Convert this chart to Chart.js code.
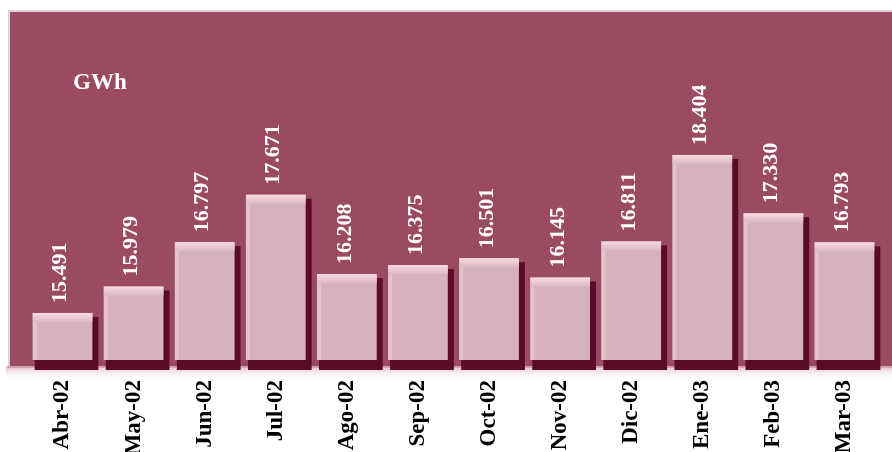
<!DOCTYPE html>
<html>
<head>
<meta charset="utf-8">
<script src="https://cdn.jsdelivr.net/npm/chart.js@4"></script>
<style>
  html, body { margin: 0; padding: 0; background: #fff; }
  #wrap { width: 892px; height: 452px; position: relative; }
</style>
</head>
<body>
<div id="wrap"><canvas id="gwhChart" width="892" height="452"></canvas></div>
<script>
// colours
// panel  #9a4a61
// bars   #d6b2bd
// shadow #5a0b28

const months = [`Abr-02`, `May-02`, `Jun-02`, `Jul-02`, `Ago-02`, `Sep-02`, `Oct-02`, `Nov-02`, `Dic-02`, `Ene-03`, `Feb-03`, `Mar-03`]
const gwh = [15.491, 15.979, 16.797, 17.671, 16.208, 16.375, 16.501, 16.145, 16.811, 18.404, 17.330, 16.793]
const valueLabels = [`15.491`, `15.979`, `16.797`, `17.671`, `16.208`, `16.375`, `16.501`, `16.145`, `16.811`, `18.404`, `17.330`, `16.793`]
const unitLabel = `GWh`
const yMin = 14.624
const yMax = 21.04

const serif = `"Liberation Serif", "Times New Roman", serif`

// maroon panel behind the plot + unit text
const panelPlugin = {
  id: `panel`,
  beforeDraw(chart) {
    const { ctx, chartArea } = chart
    const bottom = chartArea.bottom + 6
    ctx.save()
    // soft pink glow under the panel
    let g = ctx.createLinearGradient(0, bottom, 0, bottom + 14)
    g.addColorStop(0, `rgba(200,120,150,0.55)`)
    g.addColorStop(1, `rgba(255,255,255,0)`)
    ctx.fillStyle = g
    ctx.fillRect(6, bottom, chart.width, 14)
    ctx.fillStyle = `rgba(150,70,95,0.25)`
    ctx.fillRect(8, 10, chart.width, bottom - 8)
    ctx.fillStyle = `#9a4a61`
    ctx.fillRect(10, 12, chart.width - 10, bottom - 12)
    ctx.fillStyle = `#fff`
    ctx.font = `bold 23px ${serif}`
    ctx.textBaseline = `alphabetic`
    ctx.fillText(unitLabel, 73, 89)
    ctx.restore()
  },
  // dark 3D shadow to the right and below each bar
  beforeDatasetsDraw(chart) {
    const { ctx } = chart
    ctx.save()
    chart.getDatasetMeta(0).data.forEach(bar => {
      const l = bar.x - bar.width / 2, r = bar.x + bar.width / 2
      ctx.fillStyle = `#5a0b28`
      ctx.fillRect(l + 2, bar.y + 4, r - l + 4, bar.base - bar.y + 6)
    })
    ctx.restore()
  },
  afterDatasetsDraw(chart) {
    const { ctx } = chart
    ctx.save()
    chart.getDatasetMeta(0).data.forEach((bar, i) => {
      const l = bar.x - bar.width / 2, w = bar.width
      // light bevel on top
      let g = ctx.createLinearGradient(0, bar.y, 0, bar.y + 9)
      g.addColorStop(0, `#f6dbe3`)
      g.addColorStop(1, `#dcb8c3`)
      ctx.fillStyle = g
      ctx.fillRect(l, bar.y, w, 9)
      // lighter left edge
      ctx.fillStyle = `rgba(240,205,215,0.6)`
      ctx.fillRect(l, bar.y + 9, 4, bar.base - bar.y - 9)
      // value label, rotated
      ctx.translate(bar.x - 2, bar.y - 10)
      ctx.rotate(-Math.PI / 2)
      ctx.fillStyle = `#fff`
      ctx.font = `bold 22px ${serif}`
      ctx.textAlign = `left`
      ctx.textBaseline = `middle`
      ctx.fillText(valueLabels[i], 0, 0)
      ctx.setTransform(1, 0, 0, 1, 0, 0)
    })
    ctx.restore()
  }
}

let gwhChart = new Chart(document.querySelector(`#gwhChart`).getContext(`2d`), {
  type: `bar`,
  data: {
    labels: months,
    datasets: [{
      data: gwh,
      base: yMin,
      backgroundColor: `#d6b2bd`,
      borderWidth: 0,
      barPercentage: 0.84,
      categoryPercentage: 1
    }]
  },
  options: {
    responsive: false,
    animation: false,
    layout: { padding: { left: 27, right: 12, top: 12, bottom: 0 } },
    plugins: {
      legend: { display: false },
      tooltip: { enabled: false }
    },
    scales: {
      x: {
        grid: { display: false },
        border: { display: false },
        ticks: {
          color: `#000`,
          font: { family: serif, size: 23, weight: `bold` },
          minRotation: 90,
          maxRotation: 90,
          padding: 12,
          autoSkip: false
        },
        afterFit: s => { s.height = 92 }
      },
      y: {
        display: false,
        min: yMin,
        max: yMax
      }
    }
  },
  plugins: [panelPlugin]
})
</script>
</body>
</html>
